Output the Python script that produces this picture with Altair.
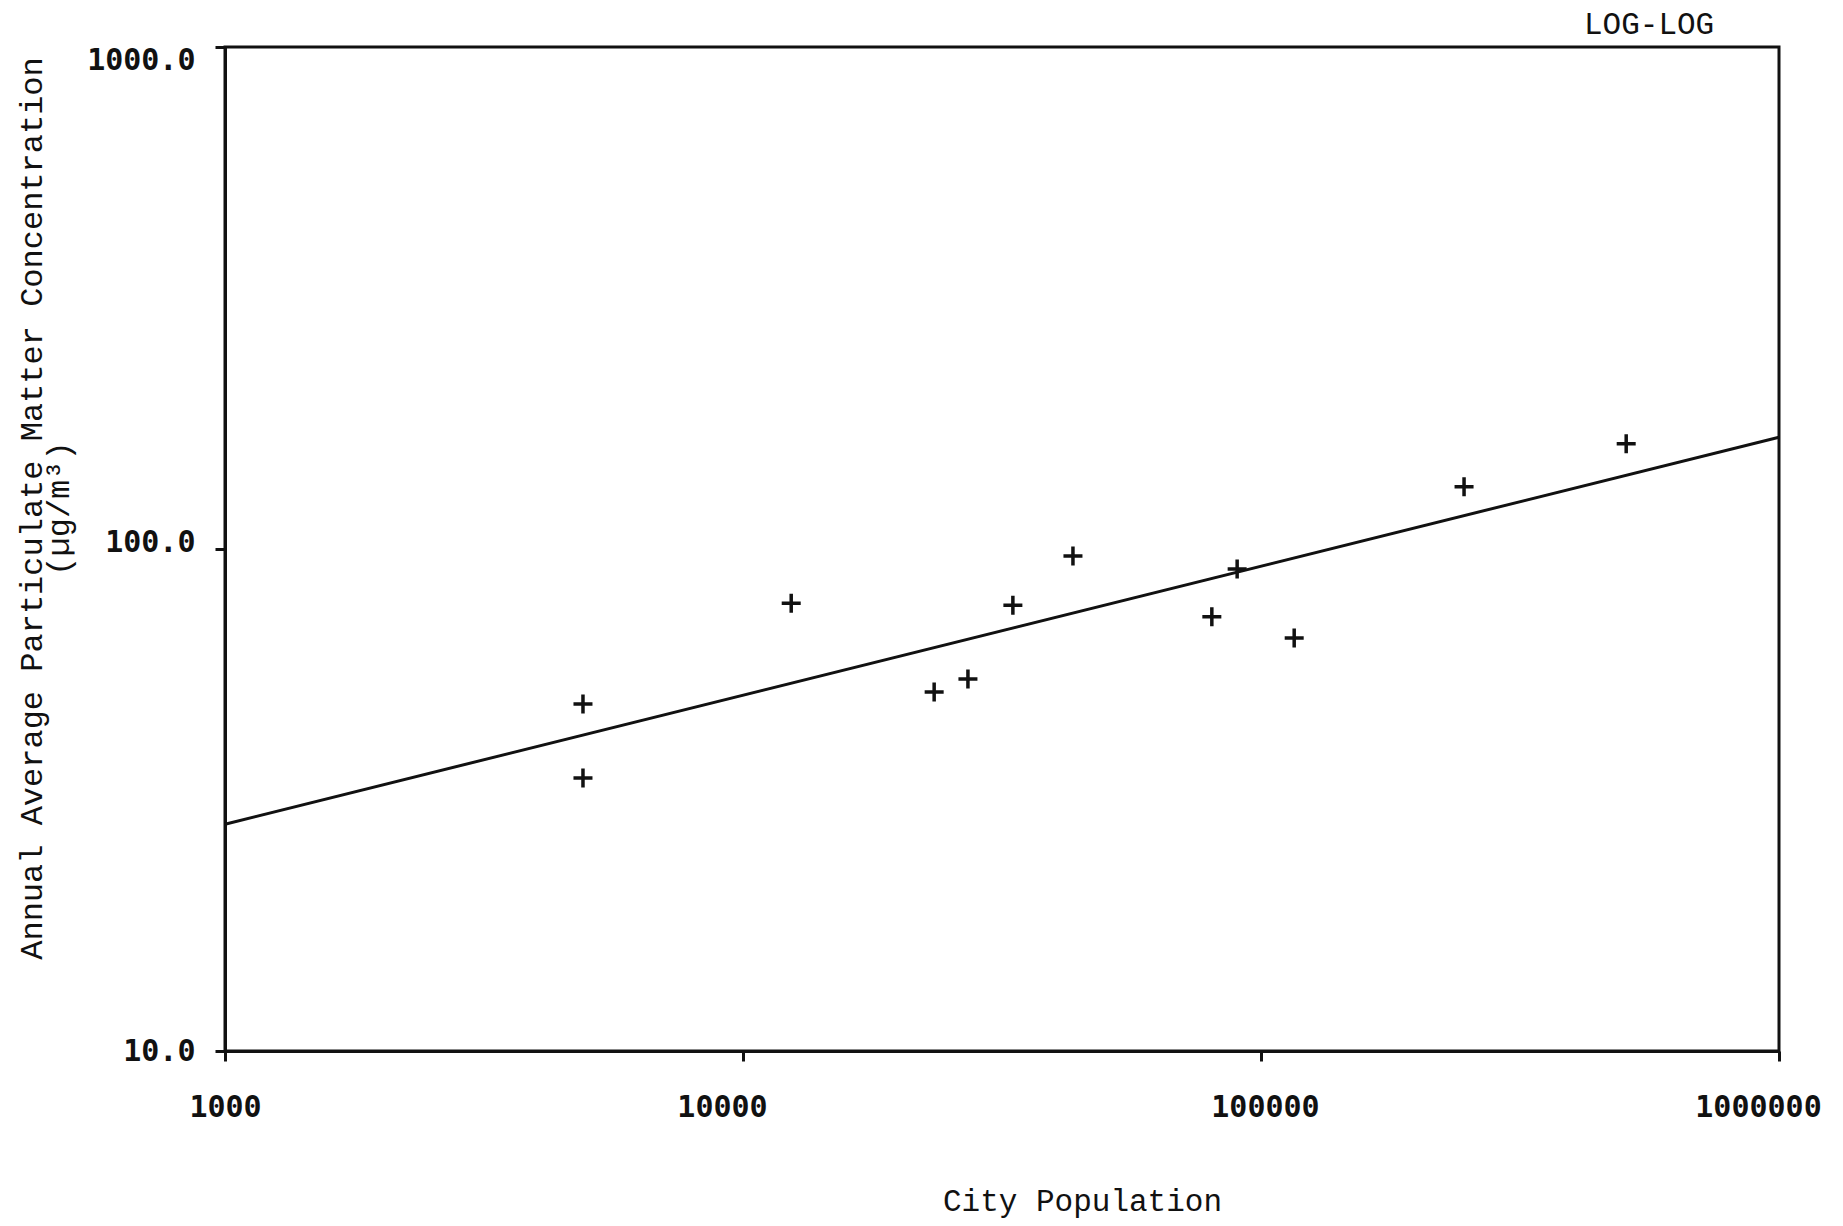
import altair as alt
import pandas as pd

# Scatter data (city population vs. annual average particulate concentration)
population = [4910, 4910, 12390, 23390, 27180, 33190, 43350, 80370, 89940, 115900, 246600, 507000]
concentration = [49.1, 35.0, 78.0, 51.9, 55.1, 77.3, 96.8, 73.3, 91.2, 66.5, 133.0, 162.0]

# Fitted log-log regression line endpoints
fit_population = [1000, 1000000]
fit_concentration = [28.3, 167.0]

x_ticks = [1000, 10000, 100000, 1000000]
y_ticks = [10, 100, 1000]

pts = pd.DataFrame({"pop": population, "conc": concentration})
fit = pd.DataFrame({"pop": fit_population, "conc": fit_concentration})

INK = "#111111"
MONO = "Liberation Mono"
DIGITS = "DejaVu Sans Mono"

xscale = alt.Scale(type="log", domain=[1000, 1000000], nice=False)
yscale = alt.Scale(type="log", domain=[10, 1000], nice=False)

xaxis = alt.Axis(
    values=x_ticks, format="d", grid=False,
    domainColor=INK, domainWidth=3, tickColor=INK, tickWidth=3, tickSize=10,
    labelFont=DIGITS, labelFontWeight="bold", labelFontSize=30, labelColor=INK,
    labelPadding=31, labelFlush=False, labelOverlap=False,
    labelOffset={"condition": [
        {"test": "datum.value == 10000", "value": -21},
        {"test": "datum.value == 1000000", "value": -21},
        {"test": "datum.value == 100000", "value": 4}], "value": 0},
    title="City Population", titleFont=MONO, titleFontSize=31, titleFontWeight="normal",
    titleColor=INK, titleX=857, titleY=159, titleAlign="center", titleBaseline="alphabetic",
)

yaxis = alt.Axis(
    values=y_ticks, format=".1f", grid=False,
    domainColor=INK, domainWidth=3, tickColor=INK, tickWidth=3, tickSize=10,
    labelFont=DIGITS, labelFontWeight="bold", labelFontSize=30, labelColor=INK,
    labelPadding=20, labelBaseline="middle", labelFlush=False, labelOverlap=False,
    labelOffset={"condition": [
        {"test": "datum.value == 1000", "value": 13},
        {"test": "datum.value == 100", "value": -7}], "value": 0},
    title=["Annual Average Particulate Matter Concentration", "(\u00b5g/m\u00b3)"],
    titleFont=MONO, titleFontSize=32, titleFontWeight="normal", titleColor=INK,
    titleLineHeight=27, titleAngle=270, titleX=-177, titleY=461,
    titleAlign="center", titleBaseline="bottom",
)

points = alt.Chart(pts).mark_point(
    shape="M-1,0L1,0M0,-1L0,1", filled=False, stroke=INK, strokeWidth=3.5, size=361, opacity=1
).encode(
    x=alt.X("pop:Q", scale=xscale, axis=xaxis),
    y=alt.Y("conc:Q", scale=yscale, axis=yaxis),
)

line = alt.Chart(fit).mark_line(color=INK, strokeWidth=3).encode(
    x=alt.X("pop:Q", scale=xscale),
    y=alt.Y("conc:Q", scale=yscale),
)

chart = alt.layer(line, points).properties(
    width=1554,
    height=1004,
    title=alt.Title("LOG-LOG", anchor="end", dx=-107, offset=4, fontSize=31,
                    font=MONO, fontWeight="normal", color=INK),
    autosize=alt.AutoSizeParams(type="none"),
    padding={"left": 217, "top": 39, "right": 56, "bottom": 167},
    background="white",
).configure_view(stroke=INK, strokeWidth=3)

chart.save("out.html", embed_options={"renderer": "svg", "actions": False})
